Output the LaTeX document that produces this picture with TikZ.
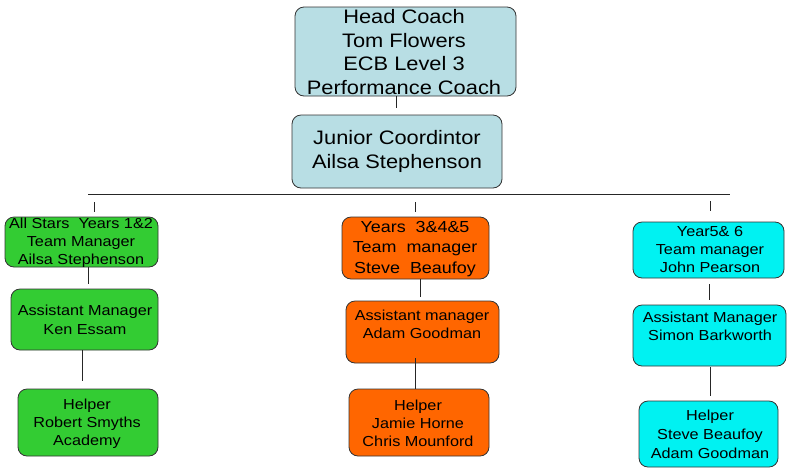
\documentclass[tikz,border=0pt]{standalone}
\usepackage{fontspec}
\setmainfont{Liberation Sans}[FakeStretch=1.12]
\begin{document}
\begin{tikzpicture}[x=1pt,y=-1pt,
  box/.style={draw=black!80,line width=0.8pt,rounded corners=9pt,inner sep=0pt},
  bigtxt/.style={align=center,inner sep=0pt,font=\fontsize{19.5}{23.5}\selectfont},
  smalltxt/.style={align=center,inner sep=0pt,font=\fontsize{14.5}{18}\selectfont},
  conn/.style={draw=black!85,line width=0.8pt}]
\useasboundingbox (0,0) rectangle (787,467);
\definecolor{topblue}{HTML}{B8DEE4}
\definecolor{grn}{HTML}{33CC33}
\definecolor{org}{HTML}{FF6600}
\definecolor{cyn}{HTML}{00F2F2}
\newcommand{\boxat}[6]{\node[box,fill=#6,minimum width=#4-#2,minimum height=#5-#3] (#1) at ({(#2+#4)/2},{(#3+#5)/2}) {};}
% top boxes
\boxat{head}{295}{7}{516}{96}{topblue}
\node[bigtxt] (headt) at (404,52) {Head Coach\\Tom Flowers\\ECB Level 3\\Performance Coach};
\boxat{jun}{292}{115}{502}{188}{topblue}
\node[bigtxt,font=\fontsize{19.5}{24}\selectfont] (junt) at (397,151) {Junior Coordintor\\Ailsa Stephenson};
% left column
\boxat{l1}{5}{217}{158}{267}{grn}
\node[smalltxt] (l1t) at (81,243) {All Stars\ \ Years 1\&2\\Team Manager\\Ailsa Stephenson};
\boxat{l2}{11}{289}{158}{350}{grn}
\node[smalltxt,font=\fontsize{14.5}{19}\selectfont] (l2t) at (85,320) {Assistant Manager\\Ken Essam};
\boxat{l3}{18}{389}{158}{456}{grn}
\node[smalltxt] (l3t) at (87,423.5) {Helper\\Robert Smyths\\Academy};
% middle column
\boxat{m1}{342}{217}{489}{279}{org}
\node[smalltxt,font=\fontsize{16}{20.5}\selectfont] (m1t) at (415,249) {Years\ \ 3\&4\&5\\Team\ \ manager\\Steve\ \ Beaufoy};
\boxat{m2}{346}{301}{499}{363}{org}
\node[smalltxt] (m2t) at (422,324) {Assistant manager\\Adam Goodman};
\boxat{m3}{349}{389}{489}{456}{org}
\node[smalltxt] (m3t) at (418,423) {Helper\\Jamie Horne\\Chris Mounford};
% right column
\boxat{r1}{633}{222}{784}{278}{cyn}
\node[smalltxt] (r1t) at (710,250) {Year5\& 6\\Team manager\\John Pearson};
\boxat{r2}{633}{305}{786}{366}{cyn}
\node[smalltxt] (r2t) at (710,326) {Assistant Manager\\Simon Barkworth};
\boxat{r3}{639}{401}{778}{467}{cyn}
\node[smalltxt,font=\fontsize{14.5}{19}\selectfont] (r3t) at (710,434) {Helper\\Steve Beaufoy\\Adam Goodman};
% connector coordinates
\coordinate (hj1) at (head.south -| 396,0);
\coordinate (hj2) at (396,108);
\coordinate (barL) at (88,194);
\coordinate (barR) at (730,194);
\coordinate (dl1) at (94,202);  \coordinate (dl2) at (94,212);
\coordinate (dm1) at (415,202); \coordinate (dm2) at (415,212);
\coordinate (dr1) at (710,201); \coordinate (dr2) at (710,211);
\coordinate (la1) at (l1.south -| 88,0);  \coordinate (la2) at (88,284);
\coordinate (lb1) at (l2.south -| 82,0);  \coordinate (lb2) at (82,381);
\coordinate (ma1) at (m1.south -| 420,0); \coordinate (ma2) at (420,297);
\coordinate (mb1) at (415,358);           \coordinate (mb2) at (m3.north -| 415,0);
\coordinate (ra1) at (709,284);           \coordinate (ra2) at (709,300);
\coordinate (rb1) at (710,367);           \coordinate (rb2) at (710,396);
\draw[conn] (hj1) -- (hj2);
\draw[conn] (barL) -- (barR);
\draw[conn] (dl1) -- (dl2);
\draw[conn] (dm1) -- (dm2);
\draw[conn] (dr1) -- (dr2);
\draw[conn] (la1) -- (la2);
\draw[conn] (lb1) -- (lb2);
\draw[conn] (ma1) -- (ma2);
\draw[conn] (mb1) -- (mb2);
\draw[conn] (ra1) -- (ra2);
\draw[conn] (rb1) -- (rb2);
\end{tikzpicture}
\end{document}
